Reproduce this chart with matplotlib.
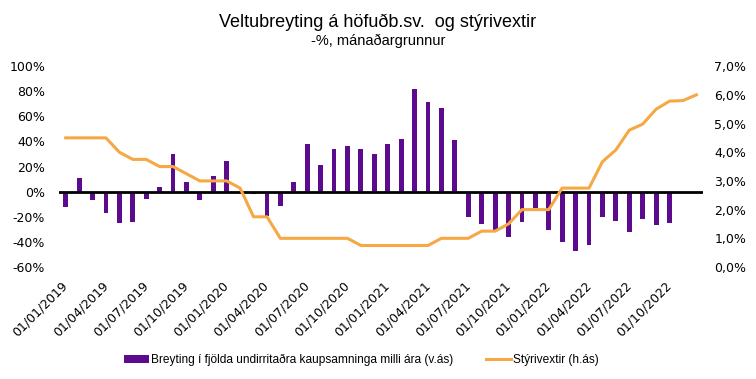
import matplotlib
matplotlib.use("Agg")
import matplotlib.pyplot as plt
import numpy as np

months = [f"01/{m:02d}/{y}" for y in range(2019, 2023) for m in range(1, 13)]
bars = [-12, 10.6, -7, -16.7, -24.7, -24, -5.8, 3.5, 30, 7.7, -6.6, 12.5,
        24.4, 0, -2.2, -19.4, -11.2, 7.7, 38, 21.5, 34, 36.7, 34, 30,
        38, 42, 81.8, 71.4, 67, 41.2, -20, -25.8, -30.3, -35.9, -23.9, -13,
        -30.3, -39.8, -47, -42.2, -20, -23.1, -31.9, -21.5, -26.6, -24.7]
rate = [4.5, 4.5, 4.5, 4.5, 4.0, 3.75, 3.75, 3.5, 3.5, 3.25, 3.0, 3.0,
        3.0, 2.75, 1.75, 1.75, 1.0, 1.0, 1.0, 1.0, 1.0, 1.0, 0.75, 0.75,
        0.75, 0.75, 0.75, 0.75, 1.0, 1.0, 1.0, 1.25, 1.25, 1.5, 2.0, 2.0,
        2.0, 2.75, 2.75, 2.75, 3.67, 4.08, 4.77, 4.98, 5.5, 5.78, 5.8, 6.0]
left_ticks = [-60, -40, -20, 0, 20, 40, 60, 80, 100]
right_ticks = [0, 1, 2, 3, 4, 5, 6, 7]

purple = "#5C0A8E"
orange = "#F5A843"

fig = plt.figure(figsize=(7.56, 3.79), dpi=100)
ax = fig.add_axes([0.078, 0.2955, 0.852, 0.530])
ax2 = ax.twinx()

x = np.arange(len(months))
ax.bar(x[:len(bars)], bars, width=0.36, color=purple, zorder=2,
       label="Breyting í fjölda undirritaðra kaupsamninga milli ára (v.ás)")
ax.axhline(0, color="black", lw=2, zorder=3)
ax2.plot(x, rate, color=orange, lw=2.2, zorder=4, label="Stýrivextir (h.ás)")

ax.set_xlim(-0.5, len(months) - 0.5)
ax.set_ylim(-60, 100)
ax2.set_ylim(0, 7)
ax.set_yticks(left_ticks)
ax.set_yticklabels([f"{t}%" for t in left_ticks], fontsize=9, family="DejaVu Sans")
ax2.set_yticks(right_ticks)
ax2.set_yticklabels([f"{t:.1f}%".replace(".", ",") for t in right_ticks], fontsize=9,
                    family="DejaVu Sans")
ax.set_xticks(x[::3])
ax.set_xticklabels(months[::3], rotation=45, ha="right", va="center",
                   rotation_mode="anchor", fontsize=9, family="DejaVu Sans")
for a in (ax, ax2):
    for s in a.spines.values():
        s.set_visible(False)
    a.tick_params(length=0)
ax.tick_params(axis="x", pad=12)
ax.tick_params(axis="y", pad=10)
ax2.tick_params(axis="y", pad=8)

fig.text(0.5, 0.94, "Veltubreyting á höfuðb.sv.  og stýrivextir", ha="center", va="center",
         fontsize=13, family="Liberation Sans")
fig.text(0.5, 0.892, "-%, mánaðargrunnur", ha="center", va="center",
         fontsize=10.5, family="Liberation Sans")

h1, l1 = ax.get_legend_handles_labels()
h2, l2 = ax2.get_legend_handles_labels()
fig.legend(h1 + h2, l1 + l2, loc="center", bbox_to_anchor=(0.478, 0.05), ncol=2,
           frameon=False, prop={"family": "Liberation Sans", "size": 8.6},
           handlelength=2.1, handleheight=0.55, columnspacing=2.7, handletextpad=0.15)

fig.savefig("out.png", dpi=100)
